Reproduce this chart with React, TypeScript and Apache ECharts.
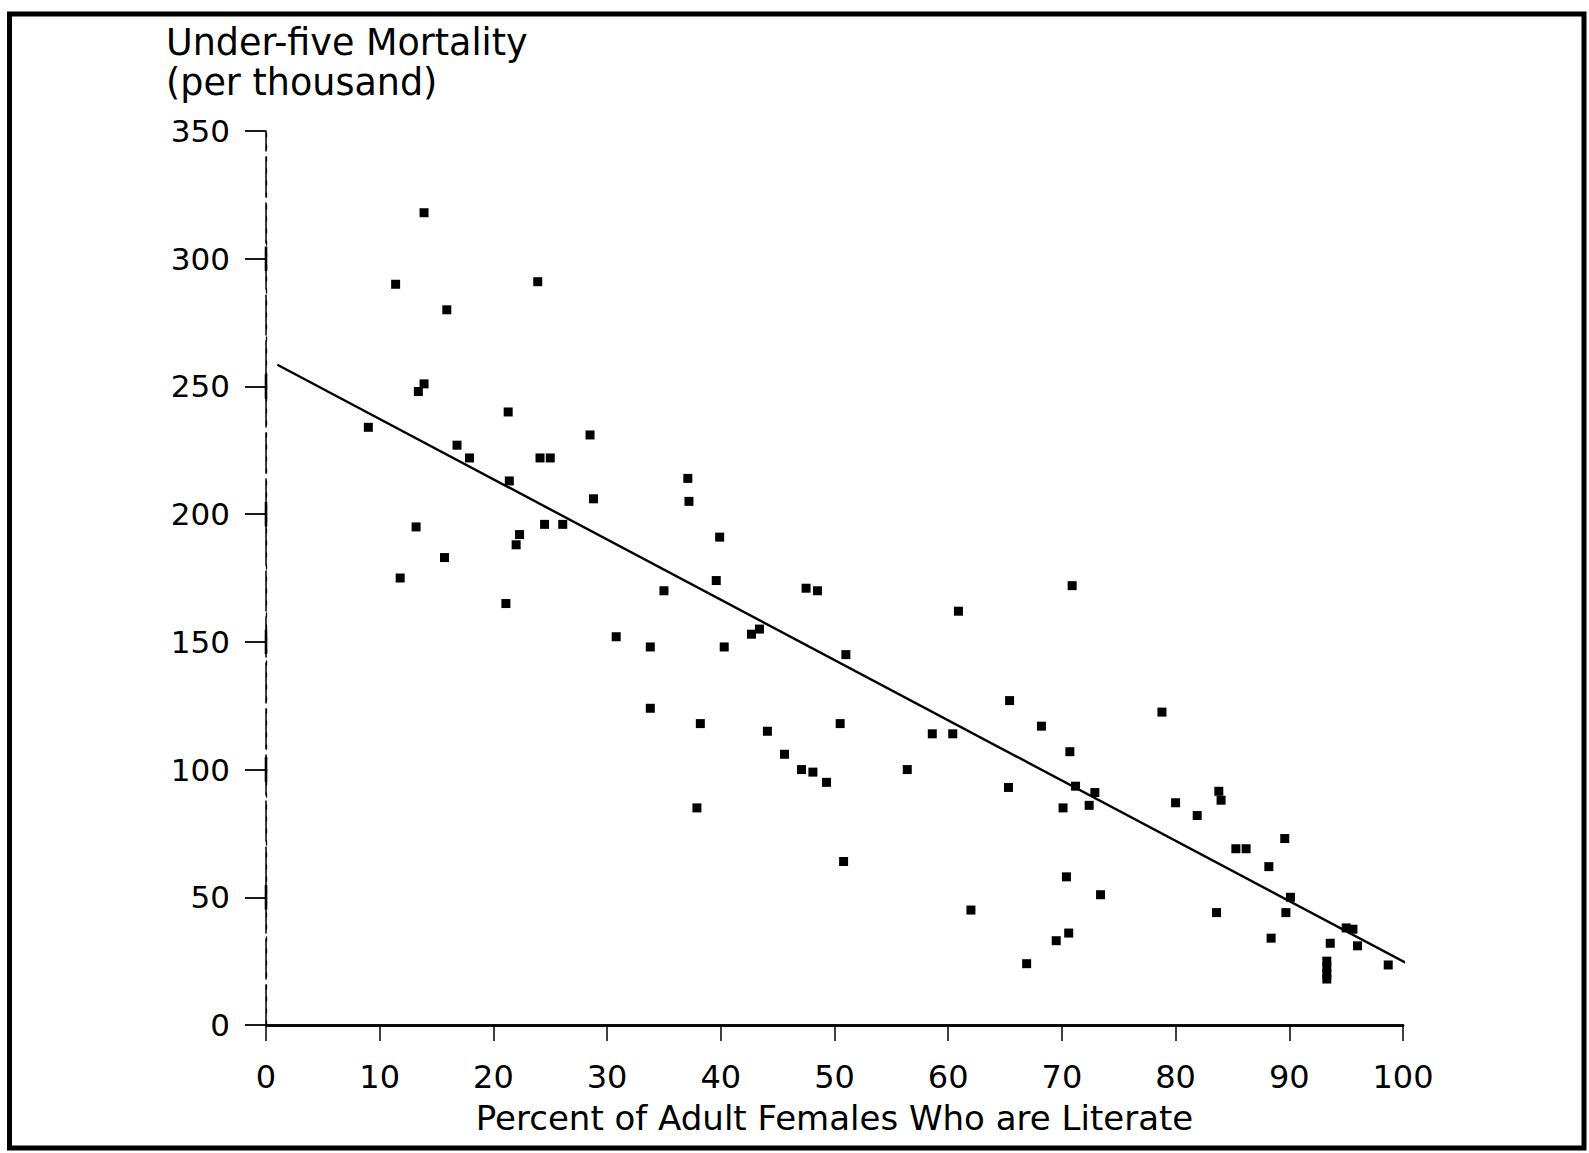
import React, { useEffect, useRef } from "react";
import * as echarts from "echarts";

const xTicks = [0, 10, 20, 30, 40, 50, 60, 70, 80, 90, 100];
const yTicks = [0, 50, 100, 150, 200, 250, 300, 350];
const yTickBars = [50, 100, 150, 200, 250, 300];
const barHalf = 4.8;

const literacy = [
  9.0, 11.4, 11.8, 13.2, 13.4, 13.9, 13.9, 15.7, 15.9, 16.8, 17.9, 21.1, 21.3, 21.4, 22.0, 22.3,
  23.9, 24.1, 24.5, 25.0, 26.1, 28.5, 28.8, 30.8, 33.8, 33.8, 35.0, 37.1, 37.2, 37.9, 38.2, 39.6,
  39.9, 40.3, 42.7, 43.4, 44.1, 45.6, 47.1, 47.5, 48.1, 48.5, 49.3, 50.5, 50.8, 51.0, 56.4, 58.6,
  60.4, 60.9, 62.0, 65.3, 65.4, 66.9, 68.2, 69.5, 70.1, 70.4, 70.6, 70.7, 70.9, 71.2, 72.4, 72.9,
  73.4, 78.8, 80.0, 81.9, 83.6, 83.8, 84.0, 85.3, 86.2, 88.2, 88.4, 89.6, 89.7, 90.1, 93.3, 93.3,
  93.3, 93.3, 93.6, 95.0, 95.6, 96.0, 98.7,
];
const mortality = [
  234, 290, 175, 195, 248, 251, 318, 183, 280, 227, 222, 165, 240, 213, 188, 192,
  291, 222, 196, 222, 196, 231, 206, 152, 148, 124, 170, 214, 205, 85, 118, 174,
  191, 148, 153, 155, 115, 106, 100, 171, 99, 170, 95, 118, 64, 145, 100, 114,
  114, 162, 45, 93, 127, 24, 117, 33, 85, 58, 36, 107, 172, 93.5, 86, 91,
  51, 122.5, 87, 82, 44, 91.5, 88, 69, 69, 62, 34, 73, 44, 50, 25, 22.5,
  20, 18, 32, 38, 37.5, 31, 23.5,
];
const fitX = [1, 100.6];
const fitY = [258.5, 23.5];

const FONT = "DejaVu Sans";

export default function App() {
  const ref = useRef<HTMLDivElement>(null);
  useEffect(() => {
    if (!ref.current) return;
    const chart = echarts.init(ref.current, null, { renderer: "svg" });
    const points = literacy.map((x, i) => [x, mortality[i]]);
    const barSeries = yTickBars.map((v) => ({
      type: "line",
      data: [
        [0, v - barHalf],
        [0, v + barHalf],
      ],
      showSymbol: false,
      symbol: "none",
      lineStyle: { color: "#000", width: 2.6 },
      clip: false,
      silent: true,
      z: 5,
    }));
    chart.setOption({
      animation: false,
      backgroundColor: "#ffffff",
      title: {
        text: "Under-five Mortality\n(per thousand)",
        left: 166,
        top: 22,
        padding: 0,
        textStyle: {
          fontFamily: FONT,
          fontSize: 36.5,
          fontWeight: "normal",
          color: "#000",
          lineHeight: 40,
        },
      },
      grid: { left: 266, right: 186, top: 131, bottom: 128, containLabel: false },
      xAxis: [
        {
          type: "value",
          position: "bottom",
          min: 0,
          max: 100,
          interval: 10,
          name: "Percent of Adult Females Who are Literate",
          nameLocation: "middle",
          nameGap: 76,
          nameTextStyle: { fontFamily: FONT, fontSize: 34, color: "#000" },
          axisLine: { show: true, lineStyle: { color: "#000", width: 2.5 } },
          axisTick: { show: true, inside: false, length: 16, lineStyle: { color: "#000", width: 1.5 } },
          axisLabel: {
            show: true,
            margin: 36,
            fontFamily: FONT,
            fontSize: 32,
            color: "#000",
            customValues: xTicks,
          },
          splitLine: { show: false },
        },
        {
          type: "value",
          position: "top",
          min: 0,
          max: 100,
          axisLine: { show: true, lineStyle: { color: "#000", width: 2.5 } },
          axisTick: { show: false },
          axisLabel: { show: false },
          splitLine: { show: false },
        },
      ],
      yAxis: [
        {
          type: "value",
          position: "left",
          min: 0,
          max: 350,
          interval: 50,
          axisLine: { show: true, lineStyle: { color: "#000", width: 1.3, type: [4, 8] } },
          axisTick: { show: true, inside: false, length: 21, lineStyle: { color: "#000", width: 1.8 } },
          axisLabel: {
            show: true,
            margin: 36,
            fontFamily: FONT,
            fontSize: 31,
            color: "#000",
            customValues: yTicks,
          },
          splitLine: { show: false },
        },
        {
          type: "value",
          position: "right",
          min: 0,
          max: 350,
          axisLine: { show: true, lineStyle: { color: "#000", width: 1.5, type: [40, 6] } },
          axisTick: { show: false },
          axisLabel: { show: false },
          splitLine: { show: false },
        },
      ],
      series: [
        ...barSeries,
        {
          type: "line",
          data: fitX.map((x, i) => [x, fitY[i]]),
          showSymbol: false,
          symbol: "none",
          lineStyle: { color: "#000", width: 2.4 },
          clip: false,
          z: 2,
        },
        {
          type: "scatter",
          data: points,
          symbol: "rect",
          symbolSize: 9,
          itemStyle: { color: "#000", opacity: 1 },
          z: 4,
        },
      ],
      graphic: [
        {
          type: "rect",
          shape: { x: 9.5, y: 14, width: 1574.5, height: 1134 },
          style: { fill: "none", stroke: "#000", lineWidth: 5 },
          silent: true,
        },
      ],
    });
    return () => chart.dispose();
  }, []);
  return (
    <div
      ref={ref}
      style={{ position: "absolute", left: 0, top: 0, width: 1589, height: 1153, background: "#fff" }}
    />
  );
}
